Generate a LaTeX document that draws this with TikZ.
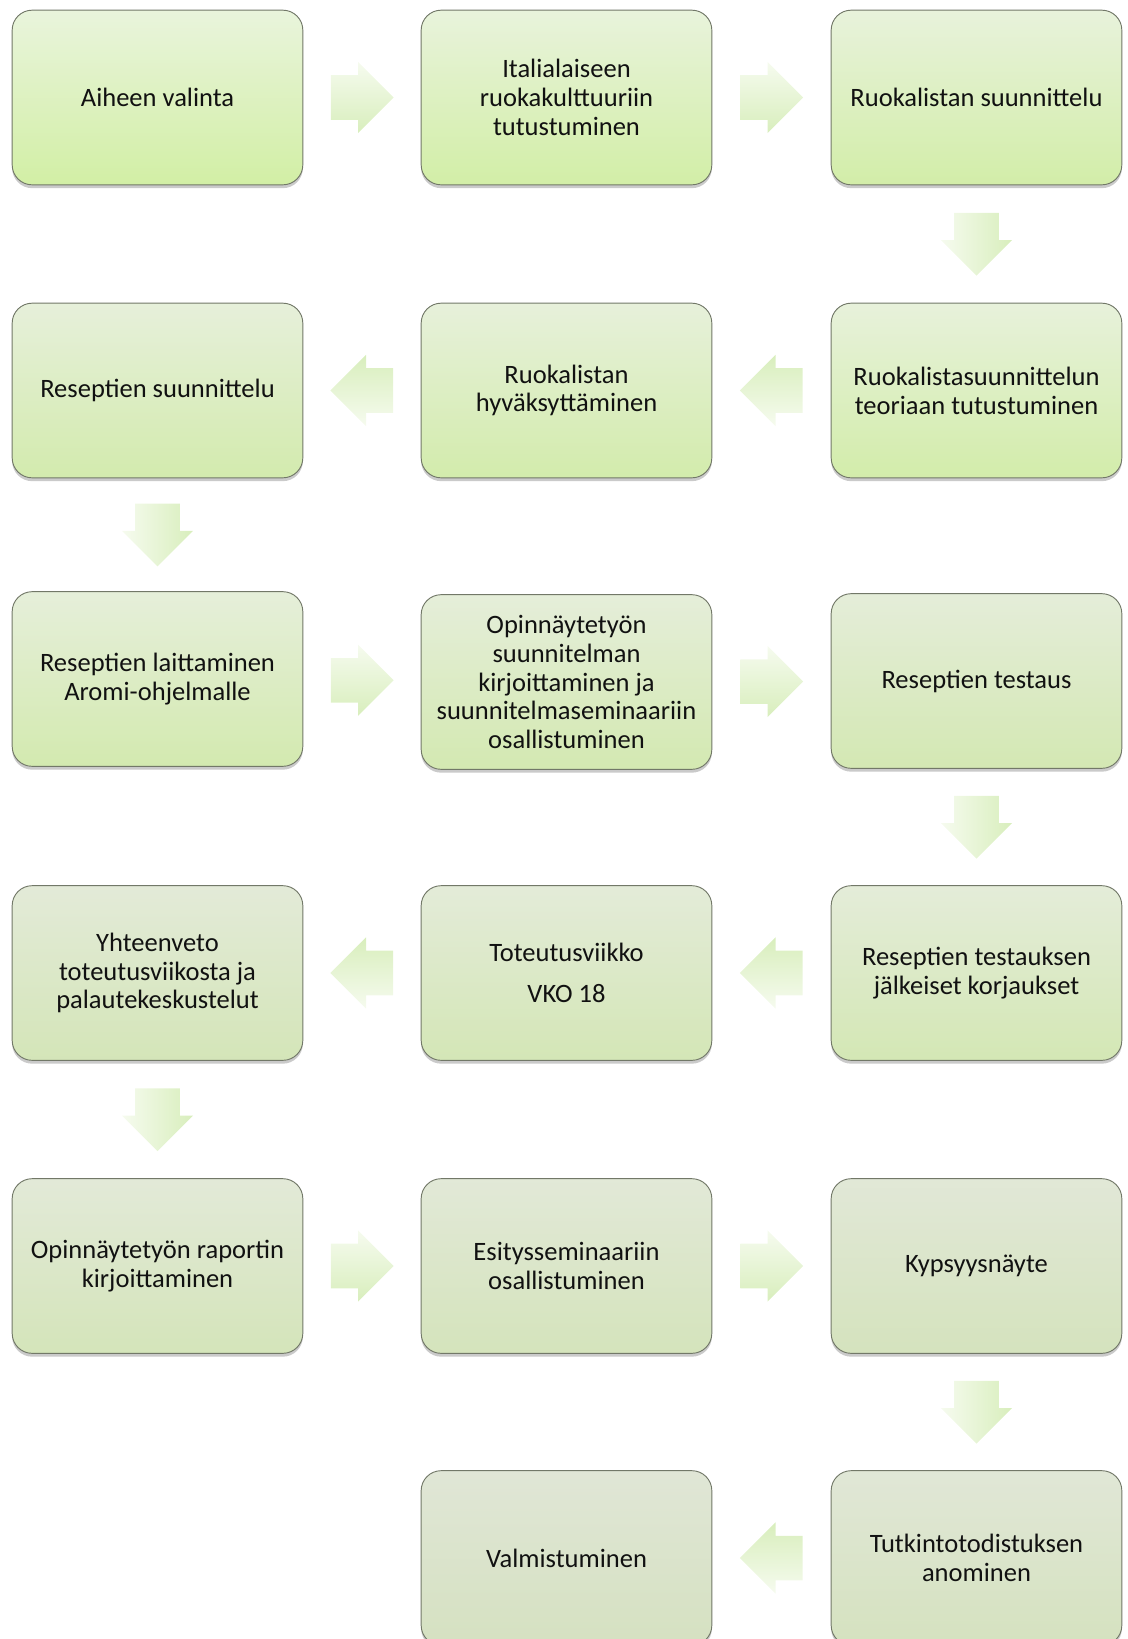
\documentclass[tikz,border=0pt]{standalone}
\usepackage{fontspec}
\setmainfont{Carlito}
\usetikzlibrary{shapes.arrows,shadows,calc}
\definecolor{topfirst}{HTML}{E9F4DC}
\definecolor{toplast}{HTML}{E0E6D6}
\definecolor{botfirst}{HTML}{D2EFA5}
\definecolor{botlast}{HTML}{D5E1C1}
\definecolor{boxline}{HTML}{727868}
\definecolor{textdark}{HTML}{111111}
\definecolor{arrtop}{HTML}{F6FBEF}
\definecolor{arrbot}{HTML}{D8EEBC}

\begin{document}
\begin{tikzpicture}[x=0.75pt,y=-0.75pt,
    box/.style={draw=boxline,line width=0.7pt,rounded corners=15pt,
        minimum width=218pt,minimum height=131pt,align=center,text=textdark,
        font=\fontsize{19.9}{21.6}\selectfont,
        drop shadow={shadow xshift=0pt,shadow yshift=-2.5pt,opacity=0.35,fill=black!60}},
    tone/.style={top color=topfirst!#1!toplast,bottom color=botfirst!#1!botlast},
    flow/.style={single arrow,single arrow head extend=10pt,inner xsep=0pt,
        inner ysep=16.5pt,minimum height=47pt,anchor=tail,
        top color=arrtop,bottom color=arrbot},
    toright/.style={flow},
    toleft/.style={flow,rotate=180,shading angle=180},
    todown/.style={flow,rotate=-90,shading angle=90}]

    \useasboundingbox (0,0) rectangle (1128,1639);
    \clip (0,0) rectangle (1128,1639);

    \node[box,tone=100] (b1) at (157.5,97.5) {Aiheen valinta};
    \node[box,tone=93.75] (b2) at (566.5,97.5) {Italialaiseen\\ruokakulttuuriin\\tutustuminen};
    \node[box,tone=87.5] (b3) at (976.5,97.5) {Ruokalistan suunnittelu};

    \node[box,tone=81.25] (b4) at (976.5,390.5) {Ruokalistasuunnittelun\\teoriaan tutustuminen};
    \node[box,tone=75] (b5) at (566.5,390.5) {Ruokalistan\\hyväksyttäminen};
    \node[box,tone=68.75] (b6) at (157.5,390.5) {Reseptien suunnittelu};

    \node[box,tone=62.5] (b7) at (157.5,679) {Reseptien laittaminen\\Aromi-ohjelmalle};
    \node[box,tone=56.25] (b8) at (566.5,682) {Opinnäytetyön\\suunnitelman\\kirjoittaminen ja\\suunnitelmaseminaariin\\osallistuminen};
    \node[box,tone=50] (b9) at (976.5,681) {Reseptien testaus};

    \node[box,tone=43.75] (b10) at (976.5,973) {Reseptien testauksen\\jälkeiset korjaukset};
    \node[box,tone=37.5] (b11) at (566.5,973) {Toteutusviikko\\[9pt]VKO 18};
    \node[box,tone=31.25] (b12) at (157.5,973) {Yhteenveto\\toteutusviikosta ja\\palautekeskustelut};

    \node[box,tone=25] (b13) at (157.5,1266) {Opinnäytetyön raportin\\kirjoittaminen};
    \node[box,tone=18.75] (b14) at (566.5,1266) {Esitysseminaariin\\osallistuminen};
    \node[box,tone=12.5] (b15) at (976.5,1266) {Kypsyysnäyte};

    \node[box,tone=6.25] (b16) at (976.5,1558) {Tutkintotodistuksen\\anominen};
    \node[box,tone=0] (b17) at (566.5,1558) {Valmistuminen};

    \node[toright] (a1) at ($(b1)!0.5!(b2)!23.5pt!(b1)$) {};
    \node[toright] (a2) at ($(b2)!0.5!(b3)!23.5pt!(b2)$) {};
    \node[todown] (a3) at ($(b3)!0.5!(b4)!23.5pt!(b3)$) {};
    \node[toleft] (a4) at ($(b4)!0.5!(b5)!23.5pt!(b4)$) {};
    \node[toleft] (a5) at ($(b5)!0.5!(b6)!23.5pt!(b5)$) {};
    \node[todown] (a6) at ($(b6)!0.5!(b7)!23.5pt!(b6)$) {};
    \node[toright] (a7) at ($(b7)!0.5!(b8)!23.5pt!(b7)$) {};
    \node[toright] (a8) at ($(b8)!0.5!(b9)!23.5pt!(b8)$) {};
    \node[todown] (a9) at ($(b9)!0.5!(b10)!23.5pt!(b9)$) {};
    \node[toleft] (a10) at ($(b10)!0.5!(b11)!23.5pt!(b10)$) {};
    \node[toleft] (a11) at ($(b11)!0.5!(b12)!23.5pt!(b11)$) {};
    \node[todown] (a12) at ($(b12)!0.5!(b13)!23.5pt!(b12)$) {};
    \node[toright] (a13) at ($(b13)!0.5!(b14)!23.5pt!(b13)$) {};
    \node[toright] (a14) at ($(b14)!0.5!(b15)!23.5pt!(b14)$) {};
    \node[todown] (a15) at ($(b15)!0.5!(b16)!23.5pt!(b15)$) {};
    \node[toleft] (a16) at ($(b16)!0.5!(b17)!23.5pt!(b16)$) {};
\end{tikzpicture}
\end{document}
